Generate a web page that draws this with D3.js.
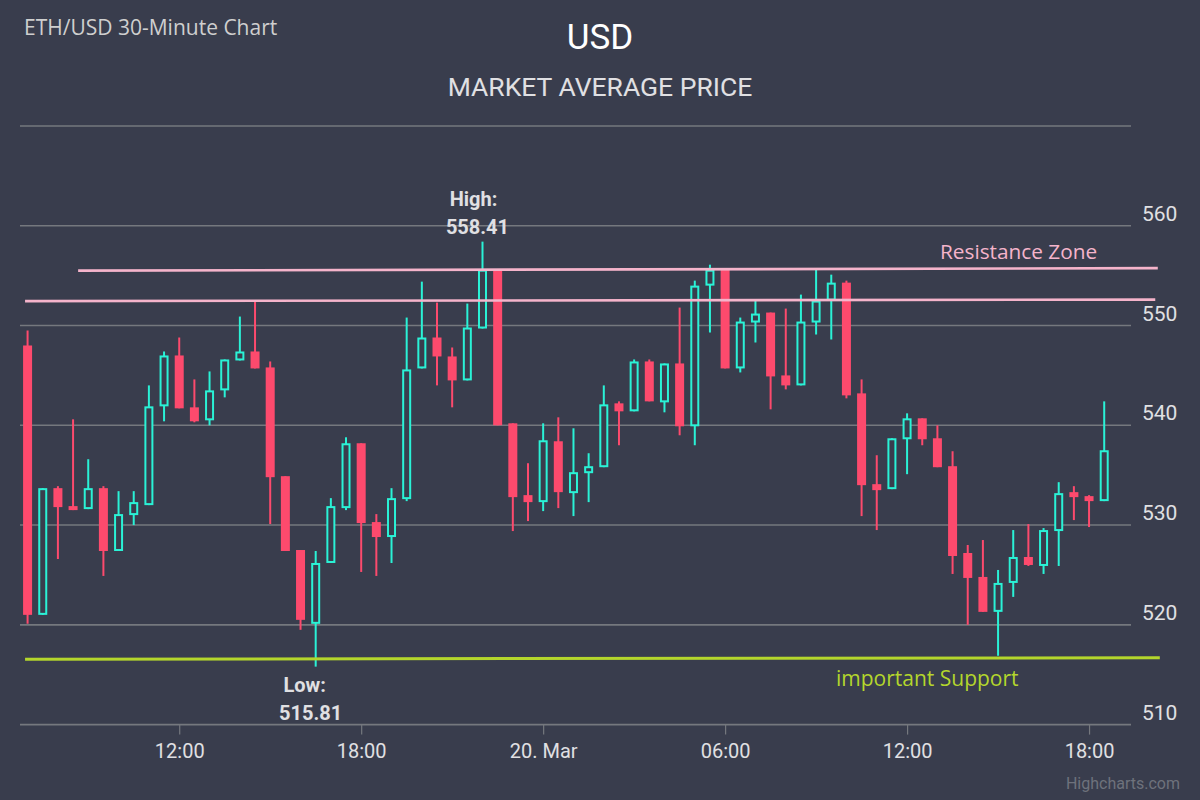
<!DOCTYPE html>
<html>
<head>
<meta charset="utf-8">
<script src="https://cdn.jsdelivr.net/npm/d3@7"></script>
<style>
	body { margin: 0; background: #393d4d; }
	svg { display: block; }
</style>
</head>
<body>
<div id="chart-area"></div>
<script>
// ETH/USD 30 minute candles, 19 Mar 07:00 -> 20 Mar 18:30 (UTC)
var opens = [548.0, 521.0, 533.7, 531.9, 531.6, 533.7, 527.4, 531.0, 532.0, 541.9, 547.0, 541.8,
	540.5, 543.5, 546.5, 547.4, 545.8, 534.9, 527.5, 520.1, 526.2, 531.7, 538.2, 530.3,
	528.8, 532.6, 545.7, 548.8, 546.9, 544.5, 549.7, 555.6, 540.2, 533.0, 532.3, 538.4,
	533.2, 535.2, 535.8, 542.2, 541.4, 546.4, 542.3, 546.2, 539.9, 554.0, 555.6, 545.7,
	550.3, 551.3, 545.0, 544.0, 550.3, 552.5, 554.3, 543.2, 534.1, 533.6, 538.6, 540.7,
	538.7, 535.9, 527.2, 524.8, 521.3, 524.2, 526.8, 525.9, 529.4, 533.3, 532.9, 532.4];
var highs = [549.5, 533.7, 533.9, 540.6, 536.6, 533.9, 533.4, 533.4, 544.0, 547.4, 548.8, 544.6,
	545.4, 546.6, 550.9, 552.5, 546.4, 534.9, 527.5, 527.4, 532.7, 538.8, 538.2, 531.1,
	533.7, 550.8, 554.4, 552.3, 547.8, 552.2, 558.41, 555.6, 540.2, 536.2, 540.2, 540.8,
	539.7, 537.2, 544.0, 542.4, 546.6, 546.6, 546.2, 551.8, 554.5, 556.1, 555.6, 550.8,
	552.5, 551.3, 551.7, 553.1, 555.7, 555.1, 554.5, 544.6, 537.0, 538.7, 541.2, 540.7,
	540.0, 537.4, 528.0, 528.5, 525.5, 529.5, 530.1, 529.7, 534.3, 533.9, 533.0, 542.4];
var lows = [520.1, 521.0, 526.6, 531.5, 531.6, 524.9, 527.4, 530.0, 532.0, 540.4, 541.7, 540.3,
	540.0, 542.8, 546.5, 545.7, 530.1, 527.4, 519.5, 515.81, 526.2, 531.5, 525.3, 524.9,
	526.2, 532.4, 545.7, 544.0, 541.8, 544.5, 549.7, 540.0, 529.4, 530.4, 531.4, 531.7,
	530.9, 532.3, 535.8, 538.0, 541.4, 542.4, 541.3, 539.0, 538.0, 549.3, 545.7, 545.3,
	548.3, 541.6, 543.6, 544.0, 549.1, 548.6, 542.7, 530.9, 529.5, 533.6, 535.1, 538.0,
	535.8, 525.1, 520.0, 521.3, 516.9, 522.8, 525.9, 525.1, 525.9, 530.5, 529.8, 532.4];
var closes = [521.0, 533.7, 531.8, 531.5, 533.7, 527.4, 531.1, 532.3, 541.9, 547.0, 541.7, 540.4,
	543.5, 546.6, 547.4, 545.7, 534.8, 527.4, 520.5, 526.2, 531.9, 538.2, 530.2, 528.8,
	532.7, 545.6, 548.8, 546.9, 544.5, 549.8, 555.6, 540.0, 532.8, 532.3, 538.5, 533.3,
	535.3, 535.9, 542.1, 541.4, 546.4, 542.4, 546.2, 539.9, 554.0, 555.6, 545.7, 550.4,
	551.2, 544.9, 544.0, 550.4, 552.5, 554.3, 543.0, 534.0, 533.5, 538.7, 540.7, 538.6,
	535.8, 526.9, 524.7, 521.3, 524.2, 526.8, 526.0, 529.5, 533.2, 532.8, 532.4, 537.5];

var firstCandle = Date.UTC(2018, 2, 19, 7, 0);
var yTicks = [510, 520, 530, 540, 550, 560, 570];
var xTicks = ["2018-03-19T12:00Z", "2018-03-19T18:00Z", "2018-03-20T00:00Z",
	"2018-03-20T06:00Z", "2018-03-20T12:00Z", "2018-03-20T18:00Z"];

// hand drawn annotation lines [start, end]
var resistanceTop = [{t: "2018-03-19T08:40Z", v: 555.5}, {t: "2018-03-20T20:16Z", v: 555.75}];
var resistanceBottom = [{t: "2018-03-19T06:55Z", v: 552.45}, {t: "2018-03-20T20:11Z", v: 552.6}];
var support = [{t: "2018-03-19T06:55Z", v: 516.55}, {t: "2018-03-20T20:20Z", v: 516.7}];

var candles = opens.map(function(o, i) {
	return {
		time: new Date(firstCandle + i * 30 * 60 * 1000),
		open: o, high: highs[i], low: lows[i], close: closes[i]
	};
});

var bg = "#393d4d";
var upColor = "#2af2d6";
var downColor = "#fd4a6d";
var textColor = "#e0e0e3";

var svg = d3.select("#chart-area")
	.append("svg")
	.attr("width", 1200)
	.attr("height", 800)
	.style("background", bg);

var x = d3.scaleUtc()
	.domain([new Date("2018-03-19T06:45Z"), new Date("2018-03-20T19:23Z")])
	.range([20, 1131]);

var y = d3.scaleLinear().domain([510, 570]).range([724.6, 126]);

// titles
svg.append("text")
	.attr("x", 24).attr("y", 35)
	.attr("font-family", "Open Sans").attr("font-size", "21px")
	.style("fill", "#cfcfcf")
	.text("ETH/USD 30-Minute Chart");

svg.append("text")
	.attr("x", 600).attr("y", 49)
	.attr("text-anchor", "middle")
	.attr("font-family", "Roboto").attr("font-size", "35px")
	.style("fill", "#ffffff")
	.text("USD");

svg.append("text")
	.attr("x", 600).attr("y", 96)
	.attr("text-anchor", "middle")
	.attr("font-family", "Roboto").attr("font-size", "26.5px")
	.style("fill", textColor)
	.text("MARKET AVERAGE PRICE");

// grid
svg.append("g").selectAll("line")
	.data(yTicks)
	.enter().append("line")
	.attr("x1", 20).attr("x2", 1131)
	.attr("y1", function(d) { return y(d); })
	.attr("y2", function(d) { return y(d); })
	.attr("stroke", "#75787e")
	.attr("stroke-width", 1.6);

svg.append("g").selectAll("text")
	.data(yTicks.filter(function(d) { return d < 570; }))
	.enter().append("text")
	.attr("x", 1142)
	.attr("y", function(d) { return y(d) - 5; })
	.attr("font-family", "Roboto").attr("font-size", "21px")
	.style("fill", textColor)
	.text(function(d) { return d; });

// x axis
var xAxisCall = d3.axisBottom(x)
	.tickValues(xTicks.map(function(d) { return new Date(d); }))
	.tickSize(10)
	.tickSizeOuter(0)
	.tickPadding(9)
	.tickFormat(function(d) {
		if (d.getUTCHours() === 0) return d3.utcFormat("%-d. %b")(d);
		return d3.utcFormat("%H:%M")(d);
	});

var xAxisGroup = svg.append("g")
	.attr("transform", "translate(0, " + y(510) + ")")
	.call(xAxisCall);
xAxisGroup.select(".domain").remove();
xAxisGroup.selectAll("line").attr("stroke", "#75787e").attr("stroke-width", 1.2);
xAxisGroup.selectAll("text")
	.attr("font-family", "Roboto").attr("font-size", "20px")
	.style("fill", textColor);

// candles
var bodyW = 9;
var candle = svg.append("g").selectAll("g")
	.data(candles)
	.enter().append("g");

candle.append("line")
	.attr("x1", function(d) { return x(d.time); })
	.attr("x2", function(d) { return x(d.time); })
	.attr("y1", function(d) { return y(d.high); })
	.attr("y2", function(d) { return y(d.low); })
	.attr("stroke", function(d) { return d.close >= d.open ? upColor : downColor; })
	.attr("stroke-width", 2);

candle.append("rect")
	.attr("x", function(d) {
		return d.close >= d.open ? x(d.time) - bodyW / 2 + 1 : x(d.time) - bodyW / 2;
	})
	.attr("width", function(d) { return d.close >= d.open ? bodyW - 2 : bodyW; })
	.attr("y", function(d) {
		var top = y(Math.max(d.open, d.close));
		return d.close >= d.open ? top + 1 : top;
	})
	.attr("height", function(d) {
		var h = Math.abs(y(d.open) - y(d.close));
		return d.close >= d.open ? Math.max(h - 2, 0.5) : Math.max(h, 2);
	})
	.attr("fill", function(d) { return d.close >= d.open ? bg : downColor; })
	.attr("stroke", function(d) { return d.close >= d.open ? upColor : "none"; })
	.attr("stroke-width", 2);

// resistance & support lines
var lineGen = d3.line()
	.x(function(d) { return x(new Date(d.t)); })
	.y(function(d) { return y(d.v); });

[resistanceTop, resistanceBottom].forEach(function(l) {
	svg.append("path").attr("d", lineGen(l))
		.attr("stroke", "#f5b4cb").attr("stroke-width", 2.6).attr("fill", "none");
});
svg.append("path").attr("d", lineGen(support))
	.attr("stroke", "#b4d62c").attr("stroke-width", 3).attr("fill", "none");

svg.append("text")
	.attr("x", 940).attr("y", 259)
	.attr("font-family", "Open Sans").attr("font-size", "20.8px")
	.style("fill", "#f5b4cb")
	.text("Resistance Zone");

svg.append("text")
	.attr("x", 836).attr("y", 686)
	.attr("font-family", "Open Sans").attr("font-size", "21px")
	.style("fill", "#b4d62c")
	.text("important Support");

// high / low labels
var hi = candles[d3.maxIndex(candles, function(d) { return d.high; })];
var lo = candles[d3.minIndex(candles, function(d) { return d.low; })];

svg.append("text").attr("x", x(hi.time) - 9).attr("y", 206)
	.attr("text-anchor", "middle")
	.attr("font-family", "Roboto").attr("font-size", "20px").attr("font-weight", "bold")
	.style("fill", textColor).text("High:");
svg.append("text").attr("x", x(hi.time) - 5).attr("y", 234)
	.attr("text-anchor", "middle")
	.attr("font-family", "Roboto").attr("font-size", "20px").attr("font-weight", "bold")
	.style("fill", textColor).text(hi.high.toFixed(2));

svg.append("text").attr("x", x(lo.time) - 11).attr("y", 692)
	.attr("text-anchor", "middle")
	.attr("font-family", "Roboto").attr("font-size", "20px").attr("font-weight", "bold")
	.style("fill", textColor).text("Low:");
svg.append("text").attr("x", x(lo.time) - 5).attr("y", 720)
	.attr("text-anchor", "middle")
	.attr("font-family", "Roboto").attr("font-size", "20px").attr("font-weight", "bold")
	.style("fill", textColor).text(lo.low.toFixed(2));

svg.append("text")
	.attr("x", 1180).attr("y", 789)
	.attr("text-anchor", "end")
	.attr("font-family", "Roboto").attr("font-size", "16px")
	.style("fill", "#6e727c")
	.text("Highcharts.com");
</script>
</body>
</html>
